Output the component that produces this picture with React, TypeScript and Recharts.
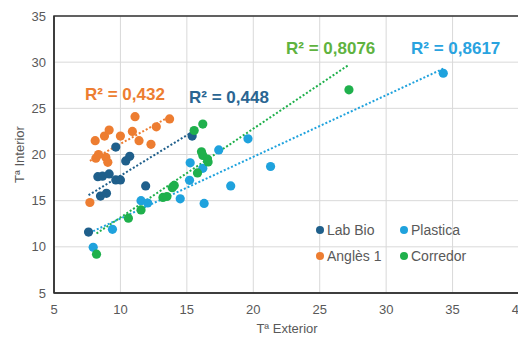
import React from "react";
import {
  ScatterChart,
  Scatter,
  XAxis,
  YAxis,
  CartesianGrid,
  ReferenceLine,
  ReferenceArea,
} from "recharts";

const labBioX = [7.6, 8.3, 8.5, 8.65, 8.95, 9.15, 9.65, 9.65, 10.0, 10.4, 10.7, 11.9, 15.4];
const labBioY = [11.6, 17.6, 15.5, 17.65, 15.8, 17.9, 17.25, 20.8, 17.25, 19.3, 19.8, 16.6, 22.0];

const plasticaX = [7.95, 9.4, 11.55, 12.05, 14.5, 15.2, 15.25, 16.2, 16.3, 17.4, 18.3, 19.6, 21.3, 34.3];
const plasticaY = [9.95, 11.9, 15.0, 14.75, 15.2, 17.2, 19.1, 18.5, 14.7, 20.5, 16.6, 21.7, 18.7, 28.8];

const anglesX = [7.7, 8.1, 8.15, 8.35, 8.8, 8.9, 9.05, 9.15, 10.0, 10.9, 11.1, 11.4, 12.3, 12.7, 13.7];
const anglesY = [14.8, 21.5, 19.6, 20.0, 22.0, 19.7, 19.15, 22.65, 22.0, 22.5, 24.1, 21.5, 21.1, 23.0, 23.85];

const corredorX = [8.2, 10.6, 11.55, 13.2, 13.5, 13.9, 14.05, 15.55, 15.8, 16.1, 16.2, 16.2, 16.55, 16.6, 27.2];
const corredorY = [9.2, 13.1, 14.0, 15.35, 15.45, 16.4, 16.65, 22.6, 18.0, 20.3, 19.9, 23.3, 19.5, 19.2, 27.0];

const xTicks = [5, 10, 15, 20, 25, 30, 35, 40];
const yTicks = [5, 10, 15, 20, 25, 30, 35];

const seriesNames = ["Lab Bio", "Plastica", "Anglès 1", "Corredor"];
const r2Labels = ["R² = 0,448", "R² = 0,8617", "R² = 0,432", "R² = 0,8076"];

const colors = {
  labBio: "#1f5f8b",
  plastica: "#1fa2dd",
  angles: "#ed7d31",
  corredor: "#1fb04c",
};

const toPts = (xs: number[], ys: number[]) => xs.map((x, i) => ({ x, y: ys[i] }));

const labBio = toPts(labBioX, labBioY);
const plastica = toPts(plasticaX, plasticaY);
const angles = toPts(anglesX, anglesY);
const corredor = toPts(corredorX, corredorY);

function trend(pts: { x: number; y: number }[]) {
  const n = pts.length;
  const mx = pts.reduce((s, p) => s + p.x, 0) / n;
  const my = pts.reduce((s, p) => s + p.y, 0) / n;
  let sxy = 0;
  let sxx = 0;
  pts.forEach((p) => {
    sxy += (p.x - mx) * (p.y - my);
    sxx += (p.x - mx) * (p.x - mx);
  });
  const b = sxy / sxx;
  const a = my - b * mx;
  const minX = Math.min(...pts.map((p) => p.x));
  const maxX = Math.max(...pts.map((p) => p.x));
  return [
    { x: minX, y: a + b * minX },
    { x: maxX, y: a + b * maxX },
  ];
}

const dot = (color: string) => (props: any) =>
  <circle cx={props.cx} cy={props.cy} r={4.6} fill={color} />;

const font = "'Liberation Sans', Arial, sans-serif";
const tickStyle = { fill: "#595959", fontSize: 13, fontFamily: font };

export default function App() {
  const series = [
    { name: seriesNames[0], data: labBio, color: colors.labBio },
    { name: seriesNames[1], data: plastica, color: colors.plastica },
    { name: seriesNames[2], data: angles, color: colors.angles },
    { name: seriesNames[3], data: corredor, color: colors.corredor },
  ];
  return (
    <div
      style={{
        position: "absolute",
        left: 0,
        top: 0,
        width: 518,
        height: 337,
        overflow: "hidden",
        background: "#fff",
        fontFamily: font,
      }}
    >
      <ScatterChart
        width={530}
        height={337}
        margin={{ top: 16, right: 11, bottom: 14, left: 0 }}
      >
        <CartesianGrid stroke="#d9d9d9" strokeWidth={1} />
        <XAxis
          type="number"
          dataKey="x"
          domain={[5, 40]}
          ticks={xTicks}
          interval={0}
          tickSize={0}
          tickMargin={12}
          axisLine={{ stroke: "#333", strokeWidth: 1.5 }}
          tick={tickStyle}
          height={30}
        />
        <YAxis
          type="number"
          dataKey="y"
          domain={[5, 35]}
          ticks={yTicks}
          interval={0}
          tickSize={0}
          tickMargin={8}
          axisLine={{ stroke: "#333", strokeWidth: 1.5 }}
          tick={tickStyle}
          width={54}
        />
        <ReferenceArea
          x1={5}
          x2={40}
          y1={5}
          y2={35}
          fill="none"
          stroke="#333"
          strokeWidth={1.5}
          fillOpacity={0}
        />
        {series.map((s) => (
          <Scatter
            key={s.name}
            name={s.name}
            data={s.data}
            fill={s.color}
            shape={dot(s.color)}
            isAnimationActive={false}
          />
        ))}
        {series.map((s) => (
          <ReferenceLine
            key={"t" + s.name}
            segment={trend(s.data)}
            stroke={s.color}
            strokeWidth={2}
            strokeDasharray="2 2"
            ifOverflow="visible"
          />
        ))}
      </ScatterChart>

      {/* R² labels */}
      <div style={{ position: "absolute", left: 85, top: 86, fontSize: 17, fontWeight: "bold", color: "#ed7d31", lineHeight: 1, whiteSpace: "nowrap" }}>
        {r2Labels[2]}
      </div>
      <div style={{ position: "absolute", left: 189, top: 89, fontSize: 17, fontWeight: "bold", color: "#2a6592", lineHeight: 1, whiteSpace: "nowrap" }}>
        {r2Labels[0]}
      </div>
      <div style={{ position: "absolute", left: 286, top: 40, fontSize: 17, fontWeight: "bold", color: "#5fb33f", lineHeight: 1, whiteSpace: "nowrap" }}>
        {r2Labels[3]}
      </div>
      <div style={{ position: "absolute", left: 411, top: 40, fontSize: 17, fontWeight: "bold", color: "#29a3df", lineHeight: 1, whiteSpace: "nowrap" }}>
        {r2Labels[1]}
      </div>

      {/* legend */}
      {series.map((s, i) => {
        const col = i % 2;
        const row = Math.floor(i / 2);
        return (
          <div
            key={"lg" + s.name}
            style={{
              position: "absolute",
              left: 316 + col * 84,
              top: 223 + row * 26,
              display: "flex",
              alignItems: "center",
              fontSize: 14,
              color: "#595959",
              lineHeight: 1,
              whiteSpace: "nowrap",
            }}
          >
            <span
              style={{
                display: "inline-block",
                width: 8,
                height: 8,
                borderRadius: 4,
                background: s.color,
                marginRight: 3,
              }}
            />
            {s.name}
          </div>
        );
      })}

      {/* axis titles */}
      <div style={{ position: "absolute", left: 237, top: 322, width: 100, textAlign: "center", fontSize: 13, color: "#595959", lineHeight: 1 }}>
        Tª Exterior
      </div>
      <div
        style={{
          position: "absolute",
          left: -31,
          top: 148,
          width: 100,
          textAlign: "center",
          fontSize: 13,
          color: "#595959",
          lineHeight: 1,
          transform: "rotate(-90deg)",
        }}
      >
        Tª Interior
      </div>
    </div>
  );
}
